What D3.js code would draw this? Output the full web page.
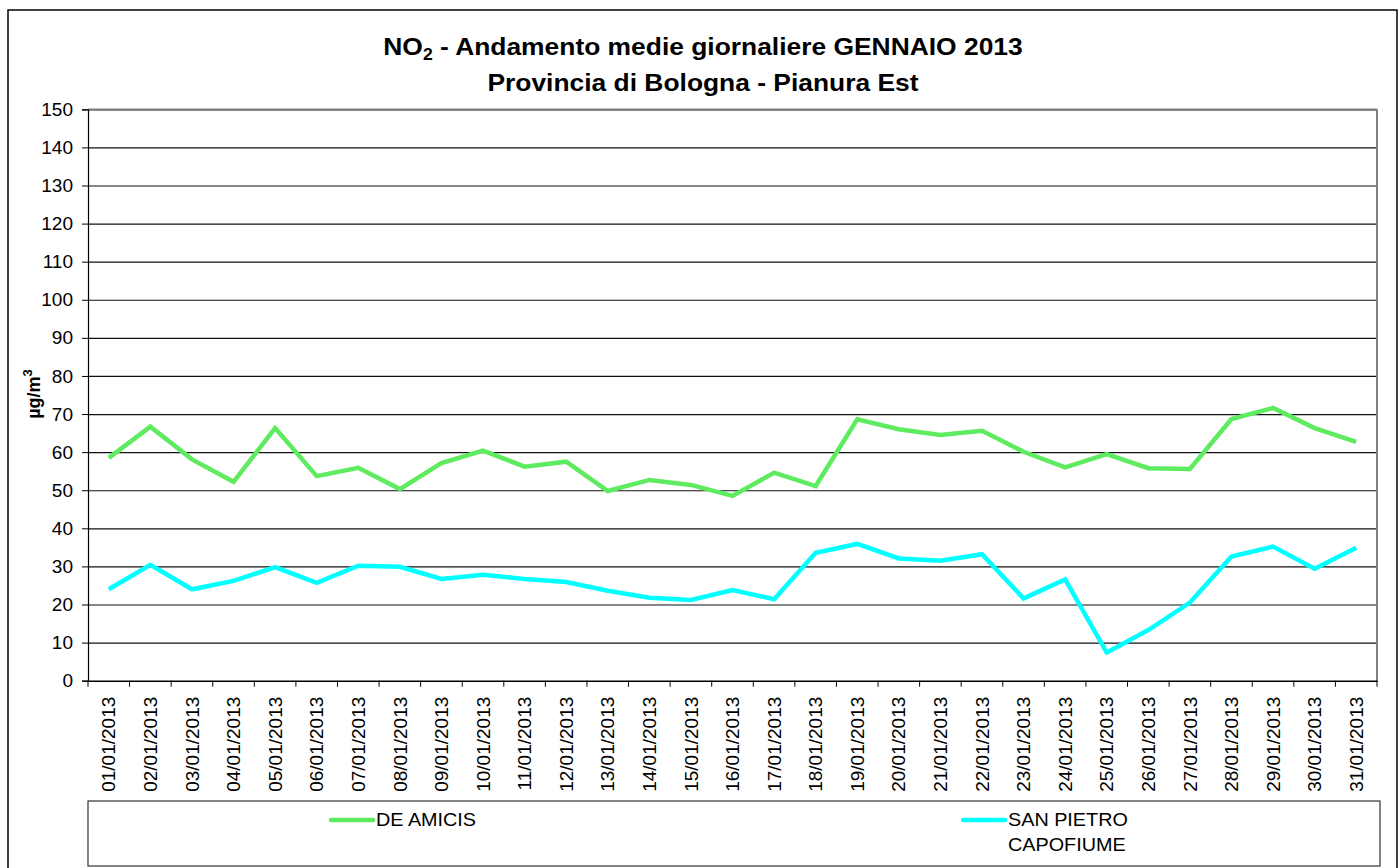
<!DOCTYPE html>
<html><head><meta charset="utf-8">
<script src="https://cdn.jsdelivr.net/npm/d3@7"></script>
<style>
html,body{margin:0;padding:0;background:#fff;}
svg text{font-family:"Liberation Sans",Arial,sans-serif;}
</style></head>
<body>
<svg id="chart" width="1399" height="868"></svg>
<script>
const dates = ["01/01/2013","02/01/2013","03/01/2013","04/01/2013","05/01/2013","06/01/2013","07/01/2013","08/01/2013","09/01/2013","10/01/2013","11/01/2013","12/01/2013","13/01/2013","14/01/2013","15/01/2013","16/01/2013","17/01/2013","18/01/2013","19/01/2013","20/01/2013","21/01/2013","22/01/2013","23/01/2013","24/01/2013","25/01/2013","26/01/2013","27/01/2013","28/01/2013","29/01/2013","30/01/2013","31/01/2013"];
const deAmicis = [58.5,66.7,58.1,52.2,66.3,53.7,55.9,50.3,57.1,60.4,56.2,57.5,49.8,52.7,51.4,48.5,54.6,51.1,68.6,66.0,64.5,65.6,60.1,56.0,59.5,55.8,55.6,68.7,71.6,66.3,62.7];
const sanPietro = [24.0,30.4,24.0,26.2,29.8,25.7,30.2,29.9,26.7,27.8,26.7,25.9,23.6,21.8,21.2,23.8,21.4,33.6,35.9,32.1,31.5,33.2,21.6,26.6,7.4,13.3,20.5,32.6,35.2,29.4,34.9];
const yTicks = [0,10,20,30,40,50,60,70,80,90,100,110,120,130,140,150];
const seriesNames = ["DE AMICIS","SAN PIETRO|CAPOFIUME"];
const seriesColors = ["#5FEB5F","#00FFFF"];
const titleLines = ["NO|2| - Andamento medie giornaliere GENNAIO 2013","Provincia di Bologna - Pianura Est"];

const svg = d3.select("#chart");
const L = 88, R = 1377, T = 109.3, B = 680.7;
const FF = "'Liberation Sans',Arial,sans-serif";

// outer border
svg.append("rect").attr("x",8).attr("y",10).attr("width",1389).attr("height",862)
  .attr("fill","#fff").attr("stroke","#000").attr("stroke-width",1.5);

const x = d3.scaleBand().domain(dates).range([L,R]).padding(0);
const y = d3.scaleLinear().domain([0,150]).range([B,T]);

// gridlines
svg.append("g").attr("transform",`translate(${L},0)`)
  .call(d3.axisLeft(y).tickValues(yTicks.slice(1)).tickSize(-(R-L)).tickFormat(""))
  .call(g=>g.select(".domain").remove())
  .call(g=>g.selectAll("line").attr("stroke","#111").attr("stroke-width",1.2));

// plot border top/right gray
svg.append("line").attr("x1",L).attr("x2",R).attr("y1",y(150)).attr("y2",y(150)).attr("stroke","#808080").attr("stroke-width",1.5);
svg.append("line").attr("x1",R).attr("x2",R).attr("y1",y(150)).attr("y2",y(0)).attr("stroke","#808080").attr("stroke-width",2);

// y axis
const yAx = svg.append("g").attr("transform",`translate(${L},0)`)
  .call(d3.axisLeft(y).tickValues(yTicks).tickSize(6).tickPadding(9));
yAx.select(".domain").attr("stroke","#000").attr("stroke-width",1.2);
yAx.selectAll("line").attr("stroke","#000");
yAx.selectAll("text").attr("font-size",19).attr("fill","#000").style("font-family",FF);

// x axis
const xAx = svg.append("g").attr("transform",`translate(0,${B})`)
  .call(d3.axisBottom(x).tickSize(0).tickPadding(0));
xAx.select(".domain").attr("stroke","#000").attr("stroke-width",1.5);
xAx.selectAll(".tick text").attr("font-size",19).attr("fill","#000")
  .style("font-family",FF)
  .attr("transform","rotate(-90)").attr("text-anchor","end")
  .attr("x",-16).attr("y",0).attr("dy","0.35em");
// boundary ticks
const bounds = dates.map(d=>x(d)).concat([R]);
xAx.selectAll(".bt").data(bounds).enter().append("line").attr("class","bt")
  .attr("x1",d=>d).attr("x2",d=>d).attr("y1",0).attr("y2",6).attr("stroke","#000");

// y title
const yt = svg.append("text").attr("transform","translate(40,394) rotate(-90)")
  .attr("text-anchor","middle").attr("font-weight","bold").attr("font-size",18);
yt.append("tspan").text("µg/m");
yt.append("tspan").text("3").attr("font-size",13).attr("dy",-8);

// lines
const line = d3.line().x((d,i)=>x(dates[i])+x.bandwidth()/2).y(d=>y(d));
[deAmicis,sanPietro].forEach((s,i)=>{
  svg.append("path").datum(s).attr("d",line).attr("fill","none")
    .attr("stroke",seriesColors[i]).attr("stroke-width",4.5).attr("stroke-linejoin","miter");
});

// title
const t1parts = titleLines[0].split("|");
const tg = svg.append("g").attr("transform","translate(703,0) scale(1.1,1)");
const t1 = tg.append("text").attr("x",0).attr("y",55).attr("text-anchor","middle")
  .attr("font-weight","bold").attr("font-size",24);
t1.append("tspan").text(t1parts[0]);
t1.append("tspan").text(t1parts[1]).attr("font-size",16).attr("dy",5);
t1.append("tspan").text(t1parts[2]).attr("dy",-5);
tg.append("text").attr("x",0).attr("y",91).attr("text-anchor","middle")
  .attr("font-weight","bold").attr("font-size",24).text(titleLines[1]);

// legend
svg.append("rect").attr("x",88).attr("y",801).attr("width",1292).attr("height",65)
  .attr("fill","#fff").attr("stroke","#333").attr("stroke-width",1.2);
const legPos = [331,963];
seriesNames.forEach((n,i)=>{
  const g = svg.append("g").attr("transform",`translate(${legPos[i]},820)`);
  g.append("line").attr("x1",0).attr("x2",42).attr("y1",0).attr("y2",0)
    .attr("stroke",seriesColors[i]).attr("stroke-width",4.5).attr("stroke-linecap","round");
  const lines = n.split("|");
  lines.forEach((ln,k)=>{
    g.append("text").attr("transform",`translate(45,${k*25}) scale(1.1,1)`)
      .attr("dy","0.35em").attr("font-size",18).text(ln);
  });
});
</script>
</body></html>
